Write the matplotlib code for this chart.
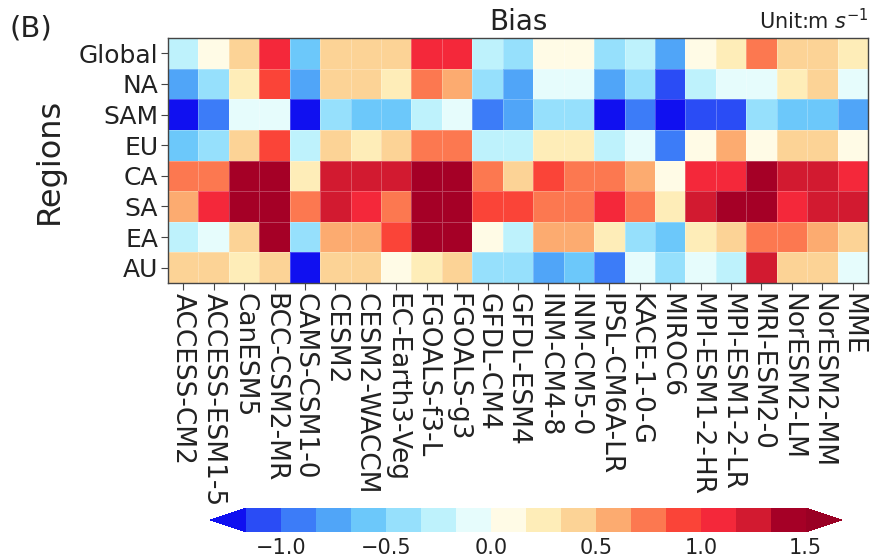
import numpy as np
import matplotlib
matplotlib.use('Agg')
import matplotlib.pyplot as plt
from matplotlib.colors import ListedColormap, BoundaryNorm

# Models (columns) and regions (rows)
models = ['ACCESS-CM2', 'ACCESS-ESM1-5', 'CanESM5', 'BCC-CSM2-MR', 'CAMS-CSM1-0',
          'CESM2', 'CESM2-WACCM', 'EC-Earth3-Veg', 'FGOALS-f3-L', 'FGOALS-g3',
          'GFDL-CM4', 'GFDL-ESM4', 'INM-CM4-8', 'INM-CM5-0', 'IPSL-CM6A-LR',
          'KACE-1-0-G', 'MIROC6', 'MPI-ESM1-2-HR', 'MPI-ESM1-2-LR', 'MRI-ESM2-0',
          'NorESM2-LM', 'NorESM2-MM', 'MME']
regions = ['Global', 'NA', 'SAM', 'EU', 'CA', 'SA', 'EA', 'AU']

# Wind speed bias (m/s) per region
global_bias = [-0.25, 0.08, 0.42, 1.08, -0.58, 0.42, 0.42, 0.42, 1.08, 1.08, -0.25, -0.42,
               0.08, 0.08, -0.42, -0.25, -0.75, 0.08, 0.25, 0.75, 0.42, 0.42, 0.25]
na_bias = [-0.75, -0.42, 0.25, 0.92, -0.75, 0.42, 0.42, 0.25, 0.75, 0.58, -0.42, -0.75,
           -0.08, -0.08, -0.75, -0.42, -1.08, -0.25, -0.08, -0.08, 0.25, 0.42, -0.08]
sam_bias = [-1.30, -0.92, -0.08, -0.08, -1.30, -0.42, -0.58, -0.58, -0.25, -0.08, -0.92, -0.75,
            -0.42, -0.42, -1.30, -0.92, -1.30, -1.08, -1.08, -0.42, -0.58, -0.58, -0.75]
eu_bias = [-0.58, -0.42, 0.42, 0.92, -0.25, 0.42, 0.25, 0.42, 0.75, 0.75, -0.25, -0.25,
           0.25, 0.25, -0.25, -0.08, -0.92, 0.08, 0.58, 0.08, 0.42, 0.42, 0.08]
ca_bias = [0.75, 0.75, 1.42, 1.42, 0.25, 1.25, 1.25, 1.25, 1.42, 1.42, 0.75, 0.42,
           0.92, 0.75, 0.75, 0.58, 0.08, 1.08, 1.08, 1.42, 1.25, 1.25, 1.08]
sa_bias = [0.58, 1.08, 1.42, 1.42, 0.75, 1.25, 1.08, 0.75, 1.42, 1.42, 0.92, 0.92,
           0.75, 0.75, 1.08, 0.75, 0.25, 1.25, 1.42, 1.42, 1.08, 1.25, 1.25]
ea_bias = [-0.25, -0.08, 0.42, 1.42, -0.42, 0.58, 0.58, 0.92, 1.42, 1.42, 0.08, -0.25,
           0.58, 0.58, 0.25, -0.42, -0.58, 0.25, 0.42, 0.75, 0.75, 0.58, 0.42]
au_bias = [0.42, 0.42, 0.25, 0.42, -1.30, 0.42, 0.42, 0.08, 0.25, 0.42, -0.42, -0.42,
           -0.75, -0.58, -0.92, -0.08, -0.42, -0.08, -0.25, 1.25, 0.42, 0.42, -0.08]

bias = np.array([global_bias, na_bias, sam_bias, eu_bias,
                 ca_bias, sa_bias, ea_bias, au_bias])

# Discrete blue-white-red palette
colors = ['#2a4cf5', '#3c7cf8', '#50a5f8', '#6cc8fa', '#96e0fc', '#bef2fc', '#e6fcfc',
          '#fffbe6', '#feedb8', '#fcd396', '#fcab70', '#fc7850', '#fa4438', '#f4283a',
          '#d21a30', '#a50026']
cmap = ListedColormap(colors)
cmap.set_under('#1010f0')
cmap.set_over('#9a0024')
levels = np.linspace(-7 / 6, 1.5, 17)
norm = BoundaryNorm(levels, cmap.N)

fig = plt.figure(figsize=(8.74, 5.6), dpi=100)
ax = fig.add_axes([168 / 874, 1 - 283 / 560, 700 / 874, 245 / 560])

mesh = ax.pcolormesh(bias, cmap=cmap, norm=norm,
                     edgecolors=(1, 1, 1, 0.25), linewidth=0.4)
ax.set_xlim(0, len(models))
ax.set_ylim(len(regions), 0)

ax.set_xticks(np.arange(len(models)) + 0.5)
ax.set_xticklabels(models, rotation=270, fontsize=19, color='#222222')
ax.set_yticks(np.arange(len(regions)) + 0.5)
ax.set_yticklabels(regions, fontsize=18, color='#222222')
ax.tick_params(length=5, width=0.8, color='#444444', pad=2)
for sp in ax.spines.values():
    sp.set_color('#444444')
    sp.set_linewidth(1.0)

ax.set_ylabel('Regions', fontsize=23, color='#222222', labelpad=10)
ax.set_title('Bias', fontsize=20, color='#222222', pad=6)
ax.set_title('Unit:m $s^{-1}$', loc='right', fontsize=15, color='#222222', pad=6)
fig.text(10 / 874, 1 - 28 / 560, '(B)', fontsize=21, color='#222222', va='center')

# Horizontal colour bar along the bottom
cax = fig.add_axes([210 / 874, 1 - 532 / 560, 632 / 874, 24 / 560])
cb = fig.colorbar(mesh, cax=cax, orientation='horizontal', extend='both',
                  extendfrac=0.065, ticks=[-1.0, -0.5, 0.0, 0.5, 1.0, 1.5])
cb.outline.set_visible(False)
cb.ax.minorticks_off()
cb.ax.tick_params(length=0, labelsize=15, labelcolor='#222222', pad=4)
cb.ax.set_xticklabels(['\u22121.0', '\u22120.5', '0.0', '0.5', '1.0', '1.5'])

fig.savefig('out.png', dpi=100)
